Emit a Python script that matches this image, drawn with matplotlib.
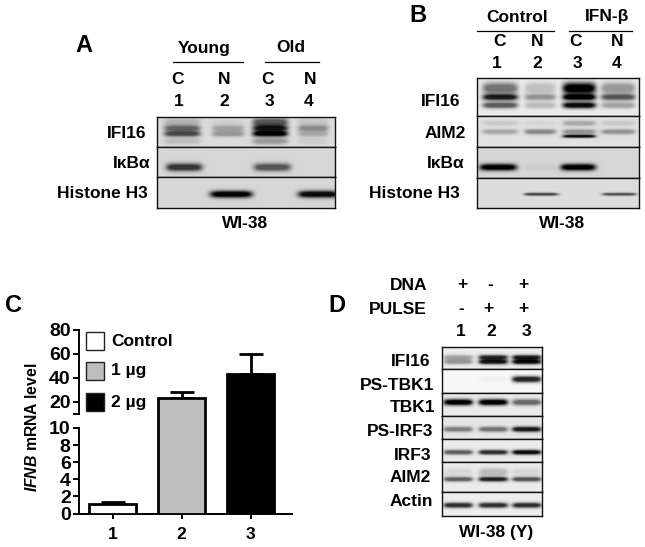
import numpy as np
import matplotlib
matplotlib.use("Agg")
import matplotlib.pyplot as plt
from matplotlib.patches import Rectangle

plt.rcParams['font.family'] = ['Liberation Sans', 'DejaVu Sans']
plt.rcParams['font.weight'] = 'bold'
plt.rcParams['mathtext.fontset'] = 'custom'
plt.rcParams['mathtext.it'] = 'Liberation Sans:italic'
plt.rcParams['mathtext.rm'] = 'Liberation Sans'

W, H = 645, 547

# ---------- data ----------
bar_labels = ['1', '2', '3']
bar_positions = [1, 2, 3]
bar_values = [1.1, 23, 43]
bar_errors = [0.3, 5, 17]
legend_labels = ['Control', '1 µg', '2 µg']
bar_colors = ['white', '#bdbdbd', 'black']
low_ticks = [0, 2, 4, 6, 8, 10]
high_ticks = [20, 40, 60, 80]

# band intensities per lane (0 = none, 1 = saturated)
A_IFI16_smear = [0.18, 0.05, 0.60, 0.10]
A_IFI16_upper = [0.50, 0.25, 0.80, 0.35]
A_IFI16_main = [0.65, 0.30, 1.00, 0.22]
A_IFI16_lower = [0.14, 0.00, 0.30, 0.07]
A_IKBA = [0.75, 0.00, 0.60, 0.00]
A_H3 = [0.00, 1.00, 0.00, 0.95]

B_IFI16_top = [0.50, 0.18, 1.00, 0.35]
B_IFI16_mid = [0.85, 0.35, 1.00, 0.60]
B_IFI16_low = [0.60, 0.20, 0.95, 0.30]
B_AIM2_smear = [0.10, 0.05, 0.25, 0.10]
B_AIM2_main = [0.25, 0.40, 0.35, 0.35]
B_AIM2_dark = [0.00, 0.00, 0.95, 0.00]
B_IKBA = [1.00, 0.05, 1.00, 0.00]
B_H3 = [0.00, 0.70, 0.00, 0.65]

D_IFI16_a = [0.30, 0.80, 0.85]
D_IFI16_b = [0.35, 0.90, 0.95]
D_PSTBK1 = [0.00, 0.03, 0.85]
D_TBK1 = [1.00, 1.00, 0.55]
D_PSIRF3 = [0.45, 0.50, 0.90]
D_IRF3 = [0.60, 0.80, 0.95]
D_AIM2_smear = [0.08, 0.20, 0.08]
D_AIM2 = [0.60, 0.85, 0.65]
D_ACTIN = [0.80, 0.80, 0.80]

fig = plt.figure(figsize=(W / 100, H / 100), dpi=100, facecolor='white')


def px_axes(x0, y0, x1, y1, **kw):
    return fig.add_axes([x0 / W, 1 - y1 / H, (x1 - x0) / W, (y1 - y0) / H], **kw)


def strip(x0, x1, y0, y1, bg, lanes, rows):
    """One blot strip: rows = (intensities, y centre px, half thickness px)."""
    ax = px_axes(x0, y0, x1, y1)
    xs = np.arange(x0, x1, 0.5)
    ys = np.arange(y0, y1, 0.5)
    xx, yy = np.meshgrid(xs, ys)
    img = np.full(xx.shape, float(bg))
    for vals, yc, t in rows:
        for (xc, w), v in zip(lanes, vals):
            prof = np.exp(-np.abs((xx - xc) / (w / 2)) ** 6) * np.exp(-((yy - yc) / t) ** 2)
            img -= v * bg * np.minimum(1.0, 1.3 * prof)
    ax.imshow(np.clip(img, 0, 1), cmap='gray', vmin=0, vmax=1, aspect='auto',
              extent=(x0, x1, y1, y0), interpolation='bilinear')
    ax.set_xticks([])
    ax.set_yticks([])
    for s in ax.spines.values():
        s.set_linewidth(1.0)
        s.set_color('#111111')
    return ax


# ---------- panel A blots ----------
A_x = (157, 335)
A_lanes = [(182, 36), (228, 32), (270, 35), (313, 30)]
A_lanes_b = [(184, 36), (228, 32), (272, 37), (313, 30)]
A_lanes_h = [(184, 36), (231, 42), (272, 37), (318, 40)]
strip(*A_x, 117, 147, 0.86, A_lanes,
      [(A_IFI16_smear, 122, 4.0), (A_IFI16_upper, 128, 2.8),
       (A_IFI16_main, 133.5, 2.8), (A_IFI16_lower, 141, 3.0)])
strip(*A_x, 147, 177, 0.84, A_lanes_b, [(A_IKBA, 167, 3.8)])
strip(*A_x, 177, 208, 0.84, A_lanes_h, [(A_H3, 194, 3.4)])

# ---------- panel B blots ----------
B_x = (477, 639)
B_lanes = [(500, 35), (540, 31), (579, 33), (618, 34)]
B_lanes_k = [(498, 37), (540, 31), (578, 35), (618, 34)]
B_lanes_h = [(498, 37), (541, 34), (578, 35), (619, 34)]
strip(*B_x, 78, 116, 0.92, B_lanes,
      [(B_IFI16_top, 88, 5.5), (B_IFI16_mid, 97, 3.0), (B_IFI16_low, 105, 3.0)])
strip(*B_x, 116, 147, 0.88, B_lanes,
      [(B_AIM2_smear, 123, 2.5), (B_AIM2_main, 131.5, 2.4), (B_AIM2_dark, 136, 1.5)])
strip(*B_x, 147, 178, 0.84, B_lanes_k, [(B_IKBA, 167, 3.3)])
strip(*B_x, 178, 208, 0.87, B_lanes_h, [(B_H3, 194, 1.4)])

# ---------- panel D blots ----------
D_x = (442, 542)
D_lanes = [(458, 29), (493, 29), (526.5, 29)]
strip(*D_x, 347, 369, 0.92, D_lanes, [(D_IFI16_a, 357, 2.2), (D_IFI16_b, 361.5, 2.4)])
strip(*D_x, 369, 393, 0.97, D_lanes, [(D_PSTBK1, 379, 3.0)])
strip(*D_x, 393, 416, 0.92, D_lanes, [(D_TBK1, 402, 3.0)])
strip(*D_x, 416, 439, 0.90, D_lanes, [(D_PSIRF3, 429, 2.5)])
strip(*D_x, 439, 462, 0.92, D_lanes, [(D_IRF3, 452, 2.3)])
strip(*D_x, 462, 492, 0.92, D_lanes, [(D_AIM2_smear, 472, 4.0), (D_AIM2, 479, 2.2)])
strip(*D_x, 492, 516, 0.93, D_lanes, [(D_ACTIN, 505, 2.5)])


# ---------- panel C: broken axis bar chart ----------
def y_fwd(y):
    y = np.asarray(y, dtype=float)
    return np.where(y <= 10, y * 8.55, 99.5 + (y - 10) * 1.2)


def y_inv(p):
    p = np.asarray(p, dtype=float)
    return np.where(p <= 85.5, p / 8.55, np.where(p >= 99.5, 10 + (p - 99.5) / 1.2, 10.0))


ax = px_axes(79, 330, 292, 513.5)
ax.patch.set_alpha(0)
ax.set_yscale('function', functions=(y_fwd, y_inv))
ax.set_xlim(0.514, 3.6)
ax.set_ylim(0, 80)
ax.bar(bar_positions, bar_values, width=0.67, color=bar_colors, edgecolor='black',
       linewidth=2.0, zorder=3)
ax.errorbar(bar_positions, bar_values, yerr=[[0, 0, 0], bar_errors], fmt='none',
            ecolor='black', elinewidth=2.0, capsize=8.5, capthick=2.0, zorder=2)
break_tick = 10.001
yt = low_ticks + [break_tick] + high_ticks
yl = [str(v) for v in low_ticks] + [''] + [str(v) for v in high_ticks]
ax.set_yticks(yt)
ax.set_yticklabels(yl, fontsize=14, fontweight='bold')
ax.minorticks_off()
ax.set_xticks(bar_positions)
ax.set_xticklabels(bar_labels, fontsize=12.5, fontweight='bold')
ax.tick_params(axis='y', length=4.5, width=1.4, pad=1.5)
ax.tick_params(axis='x', length=3.5, width=1.4, pad=6)
for s in ('top', 'right', 'left'):
    ax.spines[s].set_visible(False)
ax.spines['bottom'].set_linewidth(1.4)
yform = ax.get_yaxis_transform()
ax.plot([0, 0], [0, 10], color='black', lw=1.4, transform=yform, clip_on=False, zorder=4)
ax.plot([0, 0], [break_tick, 80], color='black', lw=1.4, transform=yform, clip_on=False, zorder=4)

# ---------- overlay text, in pixel coordinates ----------
ov = fig.add_axes([0, 0, 1, 1], zorder=10)
ov.set_xlim(0, W)
ov.set_ylim(H, 0)
ov.axis('off')
ov.patch.set_alpha(0)


def T(x, y, s, size=12, ha='center', **kw):
    ov.text(x, y, s, fontsize=size, ha=ha, va='center', fontweight='bold', color='black', **kw)


def L(x0, x1, y):
    ov.plot([x0, x1], [y, y], color='black', lw=0.9)


# Panel A
T(84, 46, 'A', 17)
T(204, 48, 'Young', 12.5)
T(291, 48, 'Old', 12.5)
L(173, 243, 62)
L(265, 319, 62)
for x, s in zip([177, 224, 267, 310], 'CNCN'):
    T(x, 79, s, 12.5)
for x, s in zip([179, 224, 269, 309], '1234'):
    T(x, 102, s, 12.5)
T(146, 133, 'IFI16', 12.5, ha='right')
T(150, 164, 'IκBα', 12.5, ha='right')
T(148, 194, 'Histone H3', 12.5, ha='right')
T(245, 224, 'WI-38', 12.5)

# Panel B
T(418, 15, 'B', 17)
T(517, 17, 'Control', 12.5)
T(607, 17, 'IFN-β', 12.5)
L(477, 554, 31)
L(569, 632, 31)
for x, s in zip([499, 537, 575, 617], 'CNCN'):
    T(x, 41, s, 12.5)
for x, s in zip([497, 537, 577, 617], '1234'):
    T(x, 63, s, 12.5)
T(460, 102, 'IFI16', 12.5, ha='right')
T(466, 134, 'AIM2', 12.5, ha='right')
T(464, 164, 'IκBα', 12.5, ha='right')
T(460, 194, 'Histone H3', 12.5, ha='right')
T(562, 224, 'WI-38', 12.5)

# Panel C
T(13, 305, 'C', 17)
ov.text(32, 427, r'$\mathit{IFNB}$ mRNA level', rotation=90, fontsize=11.3,
        ha='center', va='center', fontweight='bold', color='black')
for y, c, s in zip([332, 362, 393], bar_colors, legend_labels):
    ov.add_patch(Rectangle((86, y), 18, 18, facecolor=c, edgecolor='#222222', lw=1.0))
    T(111, y + 9, s, 12.5, ha='left')

# Panel D
T(337, 305, 'D', 17)
T(427, 286, 'DNA', 12.5, ha='right')
T(427, 309, 'PULSE', 12.5, ha='right')
for x, s in zip([462, 490, 523], ['+', '-', '+']):
    T(x, 285, s, 12.5)
for x, s in zip([461, 488, 523], ['-', '+', '+']):
    T(x, 309, s, 12.5)
for x, s in zip([461, 491, 526], '123'):
    T(x, 332, s, 12.5)
for x, y, s in zip([430, 434, 435, 433, 431, 431, 433],
                   [362, 386, 408, 432, 455, 478, 502],
                   ['IFI16', 'PS-TBK1', 'TBK1', 'PS-IRF3', 'IRF3', 'AIM2', 'Actin']):
    T(x, y, s, 12.5, ha='right')
T(496, 532, 'WI-38 (Y)', 12.5)

fig.savefig('out.png', dpi=100)
